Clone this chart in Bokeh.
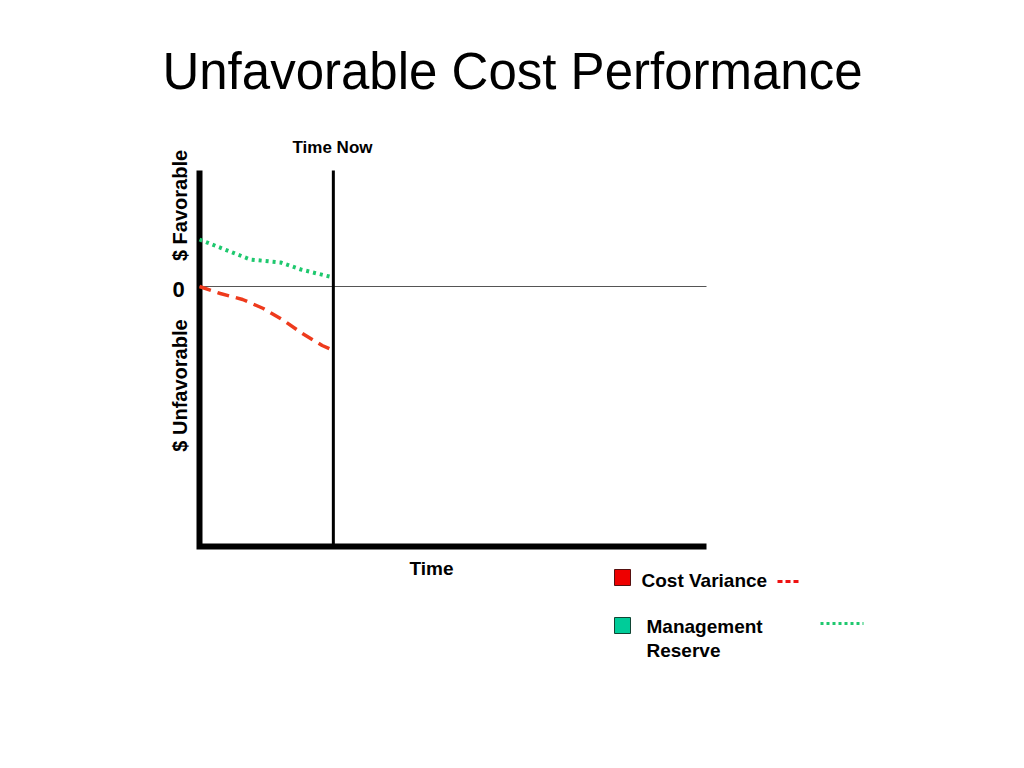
from bokeh.plotting import figure
from bokeh.models import Range1d, Label
from bokeh.embed import file_html
from bokeh.resources import INLINE
from math import pi

# ---- data ----
title_text = "Unfavorable Cost Performance"
time_now = 26.4
t_start, t_end = 0, 100
y_min, y_max = -260, 116

cv_time = [0, 4.1, 8.5, 12.6, 16.6, 20.3, 24.2, 26.4]
cv_value = [0, -7, -13, -22, -34, -47, -59, -64]

mr_time = [0, 10, 16, 20, 26.4]
mr_value = [47, 27, 24, 17, 9]

legend_labels = ["Cost Variance", "Management", "Reserve"]

# ---- layout helpers (page pixel -> data) ----
W, H = 1008, 752
OFF = 0
X0_PX, X100_PX, Y0_PX = 199, 706, 286
SX = (X100_PX - X0_PX) / 100.0


def dx(px):
    return (px - X0_PX) / SX


def dy(py):
    return Y0_PX - py


x_rng = Range1d(dx(OFF), dx(OFF + W))
y_rng = Range1d(dy(OFF + H), dy(OFF))

p = figure(width=W, height=H, x_range=x_rng, y_range=y_rng,
           output_backend="svg", toolbar_location=None,
           x_axis_location=None, y_axis_location=None,
           min_border=0, min_border_left=0, min_border_right=0,
           min_border_top=0, min_border_bottom=0)
p.title.visible = False
p.outline_line_color = None
p.xgrid.visible = False
p.ygrid.visible = False
p.background_fill_color = "white"
p.border_fill_color = "white"

FONT = "Liberation Sans"
RED_LINE = "#ee3a1c"
GREEN_LINE = "#1ec86e"

# axes (L shape)
p.line([t_start, t_start, t_end], [y_max, y_min, y_min], line_color="black",
       line_width=6, line_join="miter")
# zero line
p.line([t_start, t_end], [0, 0], line_color="#555555", line_width=1)
# time now
p.line([time_now, time_now], [y_min, y_max], line_color="black", line_width=3)

# series
p.line(mr_time, mr_value, line_color=GREEN_LINE, line_width=4, line_dash="3 4")
p.line(cv_time, cv_value, line_color=RED_LINE, line_width=3.5, line_dash="12 7")

# legend marks
p.scatter([dx(622)], [dy(577)], marker="square", size=16,
          fill_color="#ee0000", line_color="#551111", line_width=1)
p.scatter([dx(622)], [dy(625)], marker="square", size=16,
          fill_color="#00cc99", line_color="#114433", line_width=1)
p.line([dx(777), dx(799)], [dy(581), dy(581)], line_color="#ee1111",
       line_width=3, line_dash="5 3")
p.line([dx(820), dx(863)], [dy(623), dy(623)], line_color=GREEN_LINE,
       line_width=3, line_dash="3 3")

BASE_SHIFT = 0.38  # em, compensates the rendered baseline offset


def lab(text, px, py, size, align="left", baseline="alphabetic", bold=True, angle=0):
    if baseline == "alphabetic":
        py = py - BASE_SHIFT * size
    p.add_layout(Label(x=dx(px), y=dy(py), text=text, text_font=FONT,
                       text_font_size=f"{size}px",
                       text_font_style="bold" if bold else "normal",
                       text_align=align, text_baseline=baseline,
                       text_color="black", angle=angle))


lab(title_text, 512, 90, 51, align="center", bold=False)
lab("Time Now", 332, 153, 17, align="center")
lab("$ Favorable", 179, 205, 20, align="center", baseline="middle", angle=pi / 2)
lab("$ Unfavorable", 179, 385, 20, align="center", baseline="middle", angle=pi / 2)
lab("0", 178, 297, 22, align="center")
lab("Time", 431, 575, 19, align="center")
lab(legend_labels[0], 641, 587, 19)
lab(legend_labels[1], 646, 633, 19)
lab(legend_labels[2], 646, 657, 19)

open("out.html", "w").write(file_html(p, INLINE))
